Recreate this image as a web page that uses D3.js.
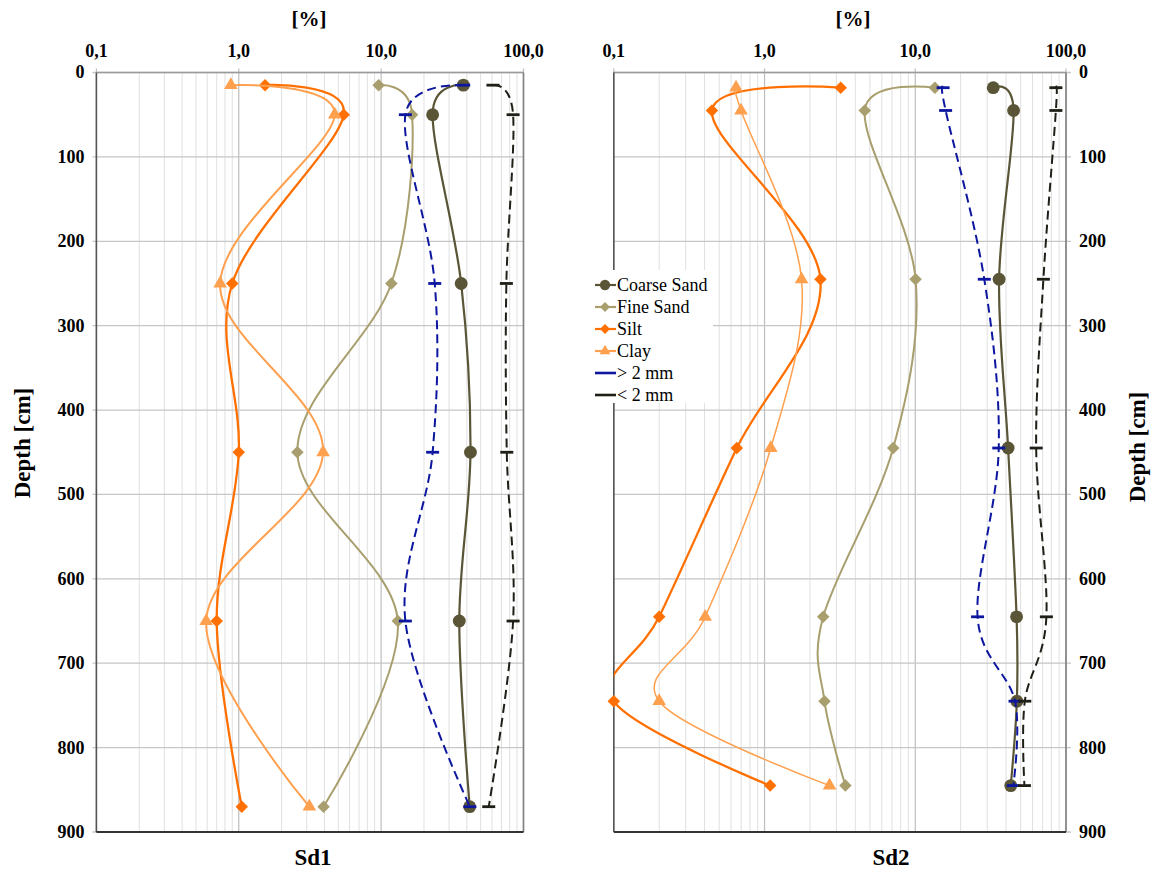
<!DOCTYPE html>
<html>
<head>
<meta charset="utf-8">
<script src="https://cdn.jsdelivr.net/npm/d3@7"></script>
<style>
body { margin: 0; background: #fff; }
text { font-family: "Liberation Serif", "Times New Roman", serif; }
</style>
</head>
<body>
<div id="chart"></div>
<script>
// data (percent, log scale) by depth in cm
var seriesNames = ["Coarse Sand", "Fine Sand", "Silt", "Clay", "> 2 mm", "< 2 mm"];

var sd1Depth      = [15, 50, 250, 450, 650, 870];
var sd1CoarseSand = [37.8, 23, 36.5, 42.4, 35.4, 41.9];
var sd1FineSand   = [9.6, 16.5, 11.8, 2.58, 13.1, 3.94];
var sd1Silt       = [1.53, 5.46, 0.90, 1.0, 0.70, 1.05];
var sd1Clay       = [0.88, 4.72, 0.74, 3.91, 0.59, 3.13];
var sd1Over2mm    = [38, 14.8, 23.8, 23, 14.8, 42];
var sd1Under2mm   = [61, 84.5, 75.8, 76.3, 84.5, 57];

var sd2Depth      = [18, 45, 245, 445, 645, 745, 845];
var sd2CoarseSand = [32.9, 44.9, 36, 41.3, 47, 47.2, 43];
var sd2FineSand   = [13.5, 4.62, 10.05, 7.14, 2.45, 2.5, 3.44];
var sd2Silt       = [3.2, 0.448, 2.35, 0.655, 0.2, 0.1, 1.09];
var sd2Clay       = [0.647, 0.698, 1.76, 1.10, 0.404, 0.2, 2.7];
var sd2Over2mm    = [15.3, 15.9, 28.7, 35.8, 25.9, 45.9, 44.7];
var sd2Under2mm   = [85.7, 85.7, 70.8, 63.4, 74.1, 53.3, 53];

var xTickValues = [0.1, 1, 10, 100];
var xTickLabels = ["0,1", "1,0", "10,0", "100,0"];
var depthTicks  = [0, 100, 200, 300, 400, 500, 600, 700, 800, 900];

// layout
var width = 1151, height = 870;
var plotTop = 72.5, plotBottom = 832;

var styles = {
  "Coarse Sand": {color: "#5a5536", marker: "circle",   dash: null,  w: 2.2},
  "Fine Sand":   {color: "#a89e6e", marker: "diamond",  dash: null,  w: 2},
  "Silt":        {color: "#ff7000", marker: "diamond",  dash: null,  w: 2.3},
  "Clay":        {color: "#ffa04f", marker: "triangle", dash: null,  w: 2},
  "> 2 mm":      {color: "#0c169e", marker: "dash",     dash: "9,5", w: 2},
  "< 2 mm":      {color: "#1f1f17", marker: "dash",     dash: "9,5", w: 2}
};

var panels = [
  {name: "Sd1", depth: sd1Depth,
   values: [sd1CoarseSand, sd1FineSand, sd1Silt, sd1Clay, sd1Over2mm, sd1Under2mm],
   x0: 96.4, x1: 523.5, side: "left", titleX: 313, pctX: 309, depthX: 22, depthY: 443, clayW: 2},
  {name: "Sd2", depth: sd2Depth,
   values: [sd2CoarseSand, sd2FineSand, sd2Silt, sd2Clay, sd2Over2mm, sd2Under2mm],
   x0: 613.8, x1: 1066, side: "right", titleX: 891, pctX: 853, depthX: 1137, depthY: 447, clayW: 1.5}
];

var svg = d3.select("#chart")
  .append("svg")
  .attr("width", width)
  .attr("height", height);

var y = d3.scaleLinear().domain([0, 900]).range([plotTop, plotBottom]);

function markerPath(type, big) {
  var k = big ? 1 : 0.8;
  if (type == "circle") return d3.symbol(d3.symbolCircle, 130 * k * k)();
  if (type == "triangle") return d3.symbol(d3.symbolTriangle, 80 * k * k)();
  if (type == "diamond") return d3.symbol(d3.symbolSquare, 78 * k * k)();
  return null;
}

panels.forEach(function(p, pi) {
  var x = d3.scaleLog().domain([0.1, 100]).range([p.x0, p.x1]);
  var g = svg.append("g");

  // minor + major vertical grid
  g.selectAll(".minor")
    .data(x.ticks().filter(function(v) { return xTickValues.indexOf(v) < 0; }))
    .enter().append("line")
    .attr("x1", function(d) { return x(d); }).attr("x2", function(d) { return x(d); })
    .attr("y1", plotTop).attr("y2", plotBottom)
    .attr("stroke", "#e0e0e0").attr("stroke-width", 1);

  g.selectAll(".major")
    .data(xTickValues)
    .enter().append("line")
    .attr("x1", function(d) { return x(d); }).attr("x2", function(d) { return x(d); })
    .attr("y1", plotTop - 4).attr("y2", plotBottom)
    .attr("stroke", "#bdbdbd").attr("stroke-width", 1.2);

  // horizontal grid + ticks on the labelled side
  var tx0 = p.side == "left" ? p.x0 - 4 : p.x0;
  var tx1 = p.side == "right" ? p.x1 + 5 : p.x1;
  g.selectAll(".hgrid")
    .data(depthTicks)
    .enter().append("line")
    .attr("x1", tx0).attr("x2", tx1)
    .attr("y1", function(d) { return y(d); }).attr("y2", function(d) { return y(d); })
    .attr("stroke", "#c6c6c6").attr("stroke-width", 1.3);

  // frame
  g.append("line").attr("x1", p.x0).attr("x2", p.x1).attr("y1", plotTop).attr("y2", plotTop)
    .attr("stroke", "#9a9a9a").attr("stroke-width", 1.6);
  g.append("line").attr("x1", p.x1).attr("x2", p.x1).attr("y1", plotTop).attr("y2", plotBottom)
    .attr("stroke", "#808080").attr("stroke-width", 1.6);
  g.append("line").attr("x1", p.x0).attr("x2", p.x0).attr("y1", plotTop).attr("y2", plotBottom)
    .attr("stroke", "#555").attr("stroke-width", 1.6);
  g.append("line").attr("x1", p.x0).attr("x2", p.x1).attr("y1", plotBottom).attr("y2", plotBottom)
    .attr("stroke", "#333").attr("stroke-width", 1.8);

  // tick labels
  g.selectAll(".xlab")
    .data(xTickValues)
    .enter().append("text")
    .attr("x", function(d) { return x(d); })
    .attr("y", 57)
    .attr("text-anchor", "middle")
    .attr("font-size", 18).attr("font-weight", "bold")
    .text(function(d, i) { return xTickLabels[i]; });

  g.selectAll(".ylab")
    .data(depthTicks)
    .enter().append("text")
    .attr("x", p.side == "left" ? p.x0 - 12 : p.x1 + 13)
    .attr("y", function(d) { return y(d); })
    .attr("dy", "0.33em")
    .attr("text-anchor", p.side == "left" ? "end" : "start")
    .attr("font-size", 18).attr("font-weight", "bold")
    .text(function(d) { return d; });

  g.append("text")
    .attr("x", p.pctX).attr("y", 26)
    .attr("text-anchor", "middle")
    .attr("font-size", 21).attr("font-weight", "bold")
    .text("[%]");

  g.append("text")
    .attr("transform", "translate(" + p.depthX + "," + p.depthY + ") rotate(-90)")
    .attr("dy", "0.35em")
    .attr("text-anchor", "middle")
    .attr("font-size", 23).attr("font-weight", "bold")
    .text("Depth [cm]");

  g.append("text")
    .attr("x", p.titleX).attr("y", 865)
    .attr("text-anchor", "middle")
    .attr("font-size", 23).attr("font-weight", "bold")
    .text(p.name);

  // series
  svg.append("clipPath").attr("id", "clip" + pi)
    .append("rect").attr("x", p.x0).attr("y", plotTop)
    .attr("width", p.x1 - p.x0).attr("height", plotBottom - plotTop);

  var line = d3.line()
    .x(function(d) { return x(d.v); })
    .y(function(d) { return y(d.depth); })
    .curve(d3.curveCardinal.tension(0));

  seriesNames.forEach(function(name, si) {
    var st = styles[name];
    var pts = p.depth.map(function(dp, i) { return {depth: dp, v: p.values[si][i]}; });
    var w = name == "Clay" ? p.clayW : st.w;

    g.append("path")
      .datum(pts)
      .attr("clip-path", "url(#clip" + pi + ")")
      .attr("d", line)
      .attr("fill", "none")
      .attr("stroke", st.color)
      .attr("stroke-width", w)
      .attr("stroke-dasharray", st.dash);

    if (st.marker == "dash") {
      g.selectAll(".m" + si)
        .data(pts)
        .enter().append("line")
        .attr("x1", function(d) { return x(d.v) - 6.5; })
        .attr("x2", function(d) { return x(d.v) + 6.5; })
        .attr("y1", function(d) { return y(d.depth); })
        .attr("y2", function(d) { return y(d.depth); })
        .attr("stroke", st.color).attr("stroke-width", 2.8);
    } else {
      g.selectAll(".m" + si)
        .data(pts)
        .enter().append("path")
        .attr("d", markerPath(st.marker, true))
        .attr("transform", function(d) {
          return "translate(" + x(d.v) + "," + y(d.depth) + ")" + (st.marker == "diamond" ? " rotate(45)" : "");
        })
        .attr("fill", st.color);
    }
  });
});

// legend, drawn over the right panel
var legend = svg.append("g");
legend.append("rect")
  .attr("x", 585).attr("y", 270).attr("width", 128).attr("height", 133)
  .attr("fill", "#fff");

seriesNames.forEach(function(name, i) {
  var st = styles[name];
  var ly = 285 + i * 22;
  legend.append("line")
    .attr("x1", 595).attr("x2", 616).attr("y1", ly).attr("y2", ly)
    .attr("stroke", st.color).attr("stroke-width", st.marker == "dash" ? 2.6 : 2.2);
  if (st.marker != "dash") {
    legend.append("path")
      .attr("d", markerPath(st.marker, false))
      .attr("transform", "translate(605," + ly + ")" + (st.marker == "diamond" ? " rotate(45)" : ""))
      .attr("fill", st.color);
  }
  legend.append("text")
    .attr("x", 617).attr("y", ly)
    .attr("dy", "0.33em")
    .attr("font-size", 18)
    .text(name);
});
</script>
</body>
</html>
